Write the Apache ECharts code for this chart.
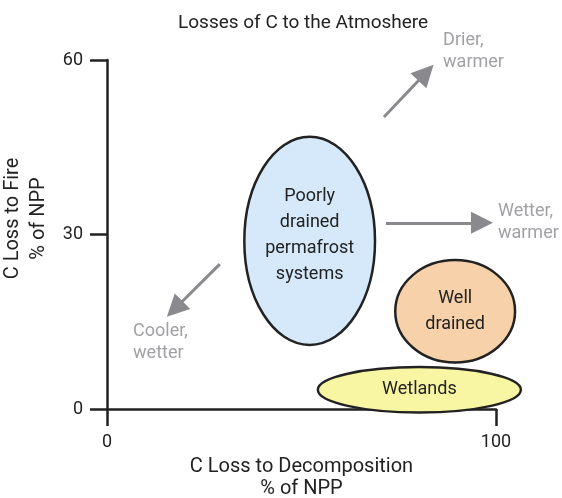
<!DOCTYPE html>
<html>
<head>
<meta charset="utf-8">
<script src="https://cdn.jsdelivr.net/npm/echarts@6/dist/echarts.min.js"></script>
<style>
  html, body { margin: 0; padding: 0; background: #fff; }
  #chart { width: 562px; height: 498px; }
</style>
</head>
<body>
<div id="chart"></div>
<script>
// regions: centre and half-widths in data units (% of NPP)
const regionNames = ['Poorly\ndrained\npermafrost\nsystems', 'Well\ndrained', 'Wetlands'];
const regionCx = [52.1, 89.5, 80.3];
const regionCy = [28.9, 16.8, 3.3];
const regionRx = [16.8, 15.4, 26.1];
const regionRy = [17.9, 8.8, 3.9];
const regionColors = ['#d6e9fa', '#f6d1a9', '#f8f6a2'];

// climate arrows: start -> head centre
const arrowStart = [[71.2, 50.2], [71.7, 32.0], [29.0, 24.9]];
const arrowEnd = [[82.0, 57.8], [96.4, 32.0], [17.4, 17.2]];
const arrowLabels = ['Drier,\nwarmer', 'Wetter,\nwarmer', 'Cooler,\nwetter'];
const arrowLabelPos = [[86.4, 61.4], [100.5, 32.1], [6.7, 11.5]];

const xTicks = [0, 100];
const yTicks = [0, 30, 60];

const font = "Roboto, 'Noto Sans', sans-serif";
const ink = '#222';
const grey = '#8a8a8e';

let chart = echarts.init(document.getElementById('chart'));

let regionData = regionNames.map((n, i) => [regionCx[i], regionCy[i], regionRx[i], regionRy[i], n]);

let option = {
    animation: false,
    title: {
        text: 'Losses of C to the Atmoshere',
        left: 173,
        top: 9,
        textStyle: { fontFamily: font, fontSize: 19, fontWeight: 'normal', color: ink }
    },
    grid: { left: 107, right: 66, top: 60, bottom: 89, containLabel: false, outerBoundsMode: 'none' },
    xAxis: {
        type: 'value',
        min: xTicks[0],
        max: xTicks[xTicks.length - 1],
        interval: 100,
        name: 'C Loss to Decomposition\n% of NPP',
        nameLocation: 'middle',
        nameGap: 40,
        nameTextStyle: { fontFamily: font, fontSize: 20, color: ink, lineHeight: 22 },
        axisLine: { lineStyle: { color: ink, width: 2.5 } },
        axisTick: { length: 17, lineStyle: { color: ink, width: 2.5 } },
        axisLabel: { fontFamily: font, fontSize: 18, color: ink, margin: 24 },
        splitLine: { show: false }
    },
    yAxis: {
        type: 'value',
        min: yTicks[0],
        max: yTicks[yTicks.length - 1],
        interval: 30,
        name: 'C Loss to Fire\n% of NPP',
        nameLocation: 'middle',
        nameGap: 42,
        nameTextStyle: { fontFamily: font, fontSize: 20, color: ink, lineHeight: 26, padding: [0, 0, 0, 32] },
        axisLine: { lineStyle: { color: ink, width: 2.5 } },
        axisTick: { length: 17, lineStyle: { color: ink, width: 2.5 } },
        axisLabel: { fontFamily: font, fontSize: 18, color: ink, margin: 24 },
        splitLine: { show: false }
    },
    series: [
        {
            type: 'custom',
            z: 3,
            clip: false,
            data: regionData,
            renderItem: function (params, api) {
                let c = api.coord([api.value(0), api.value(1)]);
                let s = api.size([api.value(2), api.value(3)]);
                let i = params.dataIndex;
                return {
                    type: 'group',
                    children: [
                        {
                            type: 'ellipse',
                            shape: { cx: c[0], cy: c[1], rx: s[0], ry: s[1] },
                            style: { fill: regionColors[i], stroke: ink, lineWidth: 2.5 }
                        },
                        {
                            type: 'text',
                            x: c[0],
                            y: c[1] - (i === 0 ? 5 : 0),
                            style: {
                                text: regionNames[i],
                                x: 0, y: 0,
                                align: 'center',
                                verticalAlign: 'middle',
                                fontFamily: font,
                                fontSize: 18,
                                lineHeight: 26,
                                fill: ink
                            }
                        }
                    ]
                };
            }
        },
        {
            type: 'lines',
            coordinateSystem: 'cartesian2d',
            z: 4,
            symbol: ['none', 'triangle'],
            symbolSize: 22,
            lineStyle: { color: grey, width: 3, opacity: 1 },
            data: arrowStart.map((p, i) => ({ coords: [p, arrowEnd[i]] }))
        },
        {
            type: 'scatter',
            symbolSize: 0,
            z: 5,
            clip: false,
            data: arrowLabelPos.map((p, i) => ({ value: p, name: arrowLabels[i] })),
            label: {
                show: true,
                position: 'right',
                distance: 0,
                formatter: p => p.name,
                fontFamily: font,
                fontSize: 18,
                lineHeight: 22,
                color: grey,
                align: 'left',
                verticalAlign: 'middle'
            }
        }
    ]
};

chart.setOption(option);
</script>
</body>
</html>
